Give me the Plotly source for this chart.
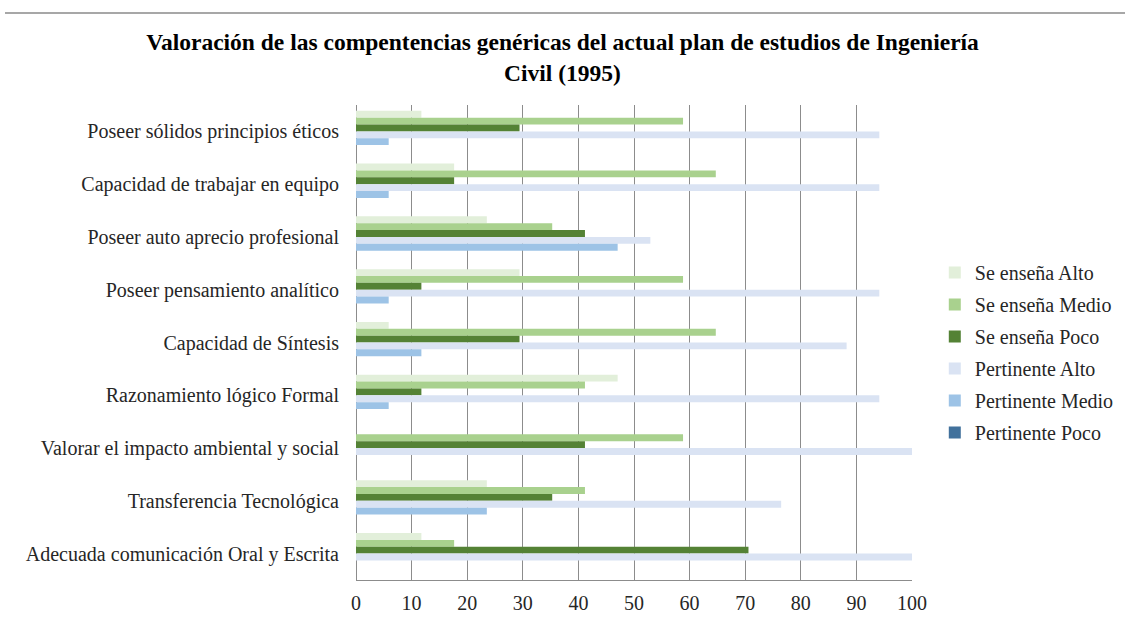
import plotly.graph_objects as go

categories = [
    "Poseer sólidos principios éticos",
    "Capacidad de trabajar en equipo",
    "Poseer auto aprecio profesional",
    "Poseer pensamiento analítico",
    "Capacidad de Síntesis",
    "Razonamiento lógico Formal",
    "Valorar el impacto ambiental y social",
    "Transferencia Tecnológica",
    "Adecuada comunicación Oral y Escrita",
]

se_ensena_alto = [11.76, 17.65, 23.53, 29.41, 5.88, 47.06, 0, 23.53, 11.76]
se_ensena_medio = [58.82, 64.71, 35.29, 58.82, 64.71, 41.18, 58.82, 41.18, 17.65]
se_ensena_poco = [29.41, 17.65, 41.18, 11.76, 29.41, 11.76, 41.18, 35.29, 70.59]
pertinente_alto = [94.12, 94.12, 52.94, 94.12, 88.24, 94.12, 100, 76.47, 100]
pertinente_medio = [5.88, 5.88, 47.06, 5.88, 11.76, 5.88, 0, 23.53, 0]
pertinente_poco = [0, 0, 0, 0, 0, 0, 0, 0, 0]

series = [
    ("Se enseña Alto", se_ensena_alto, "#e2efda"),
    ("Se enseña Medio", se_ensena_medio, "#a9d18e"),
    ("Se enseña Poco", se_ensena_poco, "#548235"),
    ("Pertinente Alto", pertinente_alto, "#dae3f3"),
    ("Pertinente Medio", pertinente_medio, "#9dc3e6"),
    ("Pertinente Poco", pertinente_poco, "#41719c"),
]

x_ticks = list(range(0, 101, 10))

fig = go.Figure()
for i, (name, vals, color) in enumerate(series):
    fig.add_trace(go.Bar(
        y=categories, x=vals, name=name, orientation="h",
        marker=dict(color=color, line=dict(width=0)),
        legendgroup=f"g{i}",
    ))

FONT = "Liberation Serif, Times New Roman, serif"
TXT = "#262626"

fig.update_layout(
    width=1125, height=619,
    margin=dict(l=356, r=213, t=105, b=39, autoexpand=False),
    paper_bgcolor="white", plot_bgcolor="white",
    barmode="group", bargap=0.22, bargroupgap=0,
    font=dict(family=FONT, size=20, color=TXT),
    title=dict(
        text="<b>Valoración de las compentencias genéricas del actual plan de estudios de Ingeniería<br>Civil (1995)</b>",
        x=0.5, xref="container", y=1 - 50 / 619, yref="container", yanchor="middle",
        font=dict(family=FONT, size=23.5, color="#000000"),
    ),
    legend=dict(
        x=1.041, xanchor="left", y=0.479, yanchor="middle",
        traceorder="grouped", tracegroupgap=3,
        font=dict(family=FONT, size=20, color=TXT),
        bgcolor="rgba(0,0,0,0)",
    ),
    xaxis=dict(
        range=[0, 100], tickvals=x_ticks, ticktext=[str(v) for v in x_ticks],
        showgrid=True, gridcolor="#8c8c8c", gridwidth=1,
        zeroline=True, zerolinecolor="#8c8c8c", zerolinewidth=1,
        showline=True, linecolor="#8c8c8c", linewidth=1,
        ticks="", ticklabelstandoff=5, automargin=False,
        tickfont=dict(family=FONT, size=20, color=TXT),
    ),
    yaxis=dict(
        autorange="reversed", showgrid=False, zeroline=False, showline=False,
        ticks="", ticklabelstandoff=16, automargin=False,
        tickfont=dict(family=FONT, size=20, color=TXT),
    ),
    shapes=[dict(
        type="line", xref="paper", yref="paper",
        x0=(5 - 356) / 556, x1=(1125 - 356) / 556,
        y0=(580 - 13) / 475, y1=(580 - 13) / 475,
        line=dict(color="#8a8a8a", width=1.5),
    )],
)

fig.write_html("out.html")
